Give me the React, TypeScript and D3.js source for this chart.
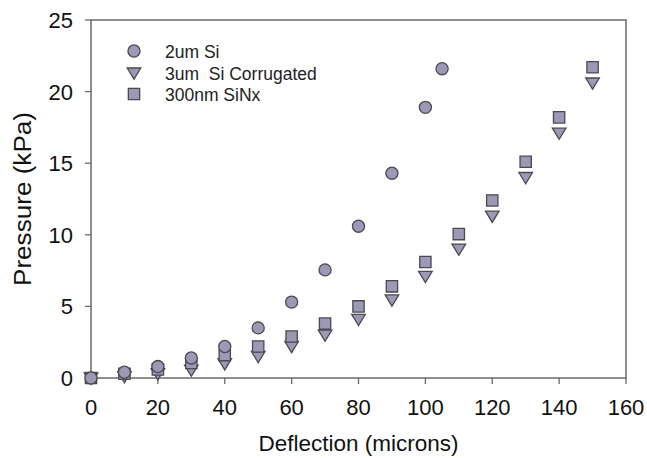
import React from "react";
import * as d3 from "d3";

const deflection = [0, 10, 20, 30, 40, 50, 60, 70, 80, 90, 100, 110, 120, 130, 140, 150];
const si2umX = [0, 10, 20, 30, 40, 50, 60, 70, 80, 90, 100, 105];
const si2umY = [0, 0.4, 0.8, 1.4, 2.2, 3.5, 5.3, 7.55, 10.6, 14.3, 18.9, 21.6];
const siCorrY = [0, 0.1, 0.3, 0.55, 1.0, 1.5, 2.2, 3.0, 4.1, 5.45, 7.1, 9.0, 11.3, 14.0, 17.1, 20.6];
const sinxY = [0, 0.3, 0.6, 1.05, 1.6, 2.2, 2.9, 3.8, 5.0, 6.4, 8.1, 10.05, 12.4, 15.1, 18.2, 21.7];
const xTicks = [0, 20, 40, 60, 80, 100, 120, 140, 160];
const yTicks = [0, 5, 10, 15, 20, 25];
const legendLabels = ["2um Si", "3um\u00a0\u00a0Si Corrugated", "300nm SiNx"];

const W = 647;
const H = 458;
const m = { left: 91, right: 21, top: 20, bottom: 80 };
const fill = "#9b99b6";
const stroke = "#4a4a52";
const axisColor = "#6b6b6b";
const font = "Liberation Sans, Arial, sans-serif";

const x = d3.scaleLinear().domain([0, 160]).range([m.left, W - m.right]);
const y = d3.scaleLinear().domain([0, 25]).range([H - m.bottom, m.top]);

const circle = d3.symbol().type(d3.symbolCircle).size(115);
const square = d3.symbol().type(d3.symbolSquare).size(128);
const tri = (cx: number, cy: number) =>
  `M${cx - 6.8},${cy - 5}L${cx + 6.8},${cy - 5}L${cx},${cy + 6.2}Z`;

export default function App() {
  const markerStyle = { fill, stroke, strokeWidth: 1.3 };
  return (
    <svg width={W} height={H} style={{ position: "absolute", left: 0, top: 0, background: "#fff" }}>
      {/* frame */}
      <rect
        x={x(0)}
        y={y(25)}
        width={x(160) - x(0)}
        height={y(0) - y(25)}
        fill="none"
        stroke={axisColor}
        strokeWidth={1.5}
      />
      {xTicks.map((t) => (
        <g key={"x" + t}>
          <line x1={x(t)} x2={x(t)} y1={y(0)} y2={y(0) + 6} stroke={axisColor} strokeWidth={1.3} />
          <text x={x(t)} y={y(0) + 37} textAnchor="middle" fontSize={22} fontFamily={font} fill="#111">
            {t}
          </text>
        </g>
      ))}
      {yTicks.map((t) => (
        <g key={"y" + t}>
          <line x1={x(0) - 6} x2={x(0)} y1={y(t)} y2={y(t)} stroke={axisColor} strokeWidth={1.3} />
          <text x={x(0) - 18} y={y(t) + 8} textAnchor="end" fontSize={22} fontFamily={font} fill="#111">
            {t}
          </text>
        </g>
      ))}
      <text x={(x(0) + x(160)) / 2} y={451} textAnchor="middle" fontSize={22.5} fontFamily={font} fill="#111">
        Deflection (microns)
      </text>
      <text
        transform={`translate(31,${(y(0) + y(25)) / 2}) rotate(-90)`}
        textAnchor="middle"
        fontSize={23}
        fontFamily={font}
        fill="#111"
        textLength={174}
        lengthAdjust="spacingAndGlyphs"
      >
        Pressure (kPa)
      </text>

      {/* series */}
      {deflection.map((d, i) => (
        <path key={"t" + i} d={tri(x(d), y(siCorrY[i]))} {...markerStyle} />
      ))}
      {deflection.map((d, i) => (
        <path
          key={"s" + i}
          d={square() as string}
          transform={`translate(${x(d)},${y(sinxY[i])})`}
          {...markerStyle}
        />
      ))}
      {si2umX.map((d, i) => (
        <path
          key={"c" + i}
          d={circle() as string}
          transform={`translate(${x(d)},${y(si2umY[i])})`}
          {...markerStyle}
        />
      ))}

      {/* legend */}
      <g>
        <path d={circle() as string} transform="translate(134,51)" {...markerStyle} />
        <path d={tri(134, 73)} {...markerStyle} />
        <path d={square() as string} transform="translate(134,94)" {...markerStyle} />
        {legendLabels.map((l, i) => (
          <text key={l} x={165} y={58 + i * 21.5} fontSize={17.5} fontFamily={font} fill="#222">
            {l}
          </text>
        ))}
      </g>
    </svg>
  );
}
